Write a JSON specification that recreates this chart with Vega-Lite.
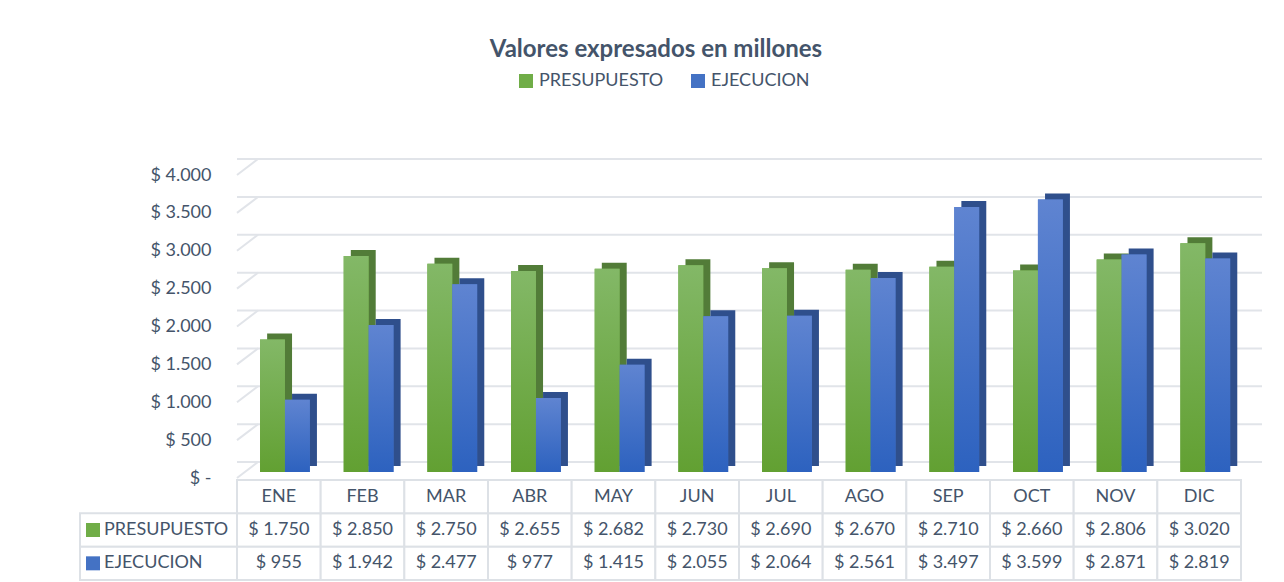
{
  "$schema": "https://vega.github.io/schema/vega-lite/v6.json",
  "padding": {"left": 79, "top": 38, "right": 0, "bottom": 0},
  "title": {"text": "Valores expresados en millones", "anchor": "middle", "fontSize": 24, "font": "Lato", "fontWeight": "bold", "color": "#44546A", "offset": 10, "dx": -15},
  "config": {
    "font": "Lato",
    "view": {"stroke": null},
    "locale": {"number": {"decimal": ",", "thousands": ".", "grouping": [3], "currency": ["$ ", ""]}}
  },
  "datasets": {
    "vals": [
      {"mes": "ENE", "serie": "PRESUPUESTO", "valor": 1750},
      {"mes": "FEB", "serie": "PRESUPUESTO", "valor": 2850},
      {"mes": "MAR", "serie": "PRESUPUESTO", "valor": 2750},
      {"mes": "ABR", "serie": "PRESUPUESTO", "valor": 2655},
      {"mes": "MAY", "serie": "PRESUPUESTO", "valor": 2682},
      {"mes": "JUN", "serie": "PRESUPUESTO", "valor": 2730},
      {"mes": "JUL", "serie": "PRESUPUESTO", "valor": 2690},
      {"mes": "AGO", "serie": "PRESUPUESTO", "valor": 2670},
      {"mes": "SEP", "serie": "PRESUPUESTO", "valor": 2710},
      {"mes": "OCT", "serie": "PRESUPUESTO", "valor": 2660},
      {"mes": "NOV", "serie": "PRESUPUESTO", "valor": 2806},
      {"mes": "DIC", "serie": "PRESUPUESTO", "valor": 3020},
      {"mes": "ENE", "serie": "EJECUCION", "valor": 955},
      {"mes": "FEB", "serie": "EJECUCION", "valor": 1942},
      {"mes": "MAR", "serie": "EJECUCION", "valor": 2477},
      {"mes": "ABR", "serie": "EJECUCION", "valor": 977},
      {"mes": "MAY", "serie": "EJECUCION", "valor": 1415},
      {"mes": "JUN", "serie": "EJECUCION", "valor": 2055},
      {"mes": "JUL", "serie": "EJECUCION", "valor": 2064},
      {"mes": "AGO", "serie": "EJECUCION", "valor": 2561},
      {"mes": "SEP", "serie": "EJECUCION", "valor": 3497},
      {"mes": "OCT", "serie": "EJECUCION", "valor": 3599},
      {"mes": "NOV", "serie": "EJECUCION", "valor": 2871},
      {"mes": "DIC", "serie": "EJECUCION", "valor": 2819}
    ],
    "ticks": [
      {"v": 0}, {"v": 500}, {"v": 1000}, {"v": 1500}, {"v": 2000},
      {"v": 2500}, {"v": 3000}, {"v": 3500}, {"v": 4000}
    ]
  },
  "columns": 2,
  "spacing": {"row": 2, "column": 0},
  "bounds": "flush",
  "resolve": {"scale": {"color": "independent"}},
  "concat": [
    {
      "width": 157,
      "height": 303,
      "data": {"values": [{}]},
      "mark": {"type": "point", "opacity": 0},
      "encoding": {}
    },
    {
      "width": 1004,
      "height": 303,
      "resolve": {"scale": {"xOffset": "independent"}},
      "layer": [
        {
          "data": {"name": "ticks"},
          "mark": {"type": "rule", "xOffset": 21, "x2Offset": 21, "yOffset": -16, "y2Offset": -16, "color": "#e1e4e9", "strokeWidth": 2},
          "encoding": {
            "y": {"field": "v", "type": "quantitative", "scale": {"domain": [0, 4000], "nice": false},
              "axis": {"title": null, "grid": false, "domain": false, "ticks": false, "labelPadding": 26, "labelFontSize": 18, "labelColor": "#44546A", "labelFont": "Lato", "labelOverlap": false, "labelBound": false,
                "values": [0, 500, 1000, 1500, 2000, 2500, 3000, 3500, 4000],
                "labelExpr": "datum.value == 0 ? '$ -\u00a0\u00a0\u00a0' : format(datum.value, '$,.0f')"}}
          }
        },
        {
          "data": {"name": "ticks"},
          "mark": {"type": "rule", "x2Offset": 21, "y2Offset": -16, "color": "#e1e4e9", "strokeWidth": 2},
          "encoding": {
            "x": {"datum": "ENE", "type": "nominal", "bandPosition": 0, "axis": null},
            "x2": {"datum": "ENE", "bandPosition": 0},
            "y": {"field": "v", "type": "quantitative",
              "axis": {"title": null, "grid": false, "domain": false, "ticks": false, "labelPadding": 26, "labelFontSize": 18, "labelColor": "#44546A", "labelFont": "Lato", "labelOverlap": false, "labelBound": false,
                "values": [0, 500, 1000, 1500, 2000, 2500, 3000, 3500, 4000],
                "labelExpr": "datum.value == 0 ? '$ -\u00a0\u00a0\u00a0' : format(datum.value, '$,.0f')"}},
            "y2": {"field": "v"}
          }
        },
        {
          "data": {"name": "vals"},
          "mark": {"type": "bar", "yOffset": -12, "y2Offset": -12},
          "encoding": {
            "x": {"field": "mes", "type": "nominal", "axis": null, "scale": {"domain": ["ENE","FEB","MAR","ABR","MAY","JUN","JUL","AGO","SEP","OCT","NOV","DIC"], "paddingInner": 0, "paddingOuter": 0}},
            "xOffset": {"field": "serie", "type": "nominal", "scale": {"domain": ["PRESUPUESTO", "EJECUCION"], "paddingInner": 0, "paddingOuter": 0.68, "align": 0.89}},
            "y": {"field": "valor", "type": "quantitative",
              "axis": {"title": null, "grid": false, "domain": false, "ticks": false, "labelPadding": 26, "labelFontSize": 18, "labelColor": "#44546A", "labelFont": "Lato", "labelOverlap": false, "labelBound": false,
                "values": [0, 500, 1000, 1500, 2000, 2500, 3000, 3500, 4000],
                "labelExpr": "datum.value == 0 ? '$ -\u00a0\u00a0\u00a0' : format(datum.value, '$,.0f')"}},
            "fill": {"field": "serie", "type": "nominal", "scale": {"domain": ["PRESUPUESTO", "EJECUCION"], "range": ["#527c38", "#2f4f8c"]}, "legend": null}
          }
        },
        {
          "data": {"name": "vals"},
          "mark": {"type": "bar", "yOffset": -6, "y2Offset": -6},
          "encoding": {
            "x": {"field": "mes", "type": "nominal", "axis": null},
            "xOffset": {"field": "serie", "type": "nominal", "scale": {"domain": ["PRESUPUESTO", "EJECUCION"], "paddingInner": 0, "paddingOuter": 0.68, "align": 0.68}},
            "y": {"field": "valor", "type": "quantitative",
              "axis": {"title": null, "grid": false, "domain": false, "ticks": false, "labelPadding": 26, "labelFontSize": 18, "labelColor": "#44546A", "labelFont": "Lato", "labelOverlap": false, "labelBound": false,
                "values": [0, 500, 1000, 1500, 2000, 2500, 3000, 3500, 4000],
                "labelExpr": "datum.value == 0 ? '$ -\u00a0\u00a0\u00a0' : format(datum.value, '$,.0f')"}},
            "color": {"field": "serie", "type": "nominal", "scale": {"domain": ["PRESUPUESTO", "EJECUCION"], "range": ["#70AD47", "#4472C4"]},
              "legend": {"title": null, "orient": "none", "legendX": 280, "legendY": -103, "direction": "horizontal", "symbolType": "square", "symbolSize": 196, "labelFontSize": 18, "labelColor": "#44546A", "labelFont": "Lato", "columnPadding": 25, "labelOffset": 4}}
          }
        },
        {
          "data": {"name": "vals"},
          "transform": [{"filter": "datum.serie == 'PRESUPUESTO'"}],
          "mark": {"type": "bar", "yOffset": -6, "y2Offset": -6,
            "color": {"gradient": "linear", "x1": 0, "y1": 0, "x2": 0, "y2": 1, "stops": [{"offset": 0, "color": "#83b867"}, {"offset": 1, "color": "#62a032"}]}},
          "encoding": {
            "x": {"field": "mes", "type": "nominal", "axis": null},
            "xOffset": {"field": "serie", "type": "nominal", "scale": {"domain": ["PRESUPUESTO", "EJECUCION"], "paddingInner": 0, "paddingOuter": 0.68, "align": 0.68}},
            "y": {"field": "valor", "type": "quantitative",
              "axis": {"title": null, "grid": false, "domain": false, "ticks": false, "labelPadding": 26, "labelFontSize": 18, "labelColor": "#44546A", "labelFont": "Lato", "labelOverlap": false, "labelBound": false,
                "values": [0, 500, 1000, 1500, 2000, 2500, 3000, 3500, 4000],
                "labelExpr": "datum.value == 0 ? '$ -\u00a0\u00a0\u00a0' : format(datum.value, '$,.0f')"}}
          }
        },
        {
          "data": {"name": "vals"},
          "transform": [{"filter": "datum.serie == 'EJECUCION'"}],
          "mark": {"type": "bar", "yOffset": -6, "y2Offset": -6,
            "color": {"gradient": "linear", "x1": 0, "y1": 0, "x2": 0, "y2": 1, "stops": [{"offset": 0, "color": "#5f84d1"}, {"offset": 1, "color": "#2d62bf"}]}},
          "encoding": {
            "x": {"field": "mes", "type": "nominal", "axis": null},
            "xOffset": {"field": "serie", "type": "nominal", "scale": {"domain": ["PRESUPUESTO", "EJECUCION"], "paddingInner": 0, "paddingOuter": 0.68, "align": 0.68}},
            "y": {"field": "valor", "type": "quantitative",
              "axis": {"title": null, "grid": false, "domain": false, "ticks": false, "labelPadding": 26, "labelFontSize": 18, "labelColor": "#44546A", "labelFont": "Lato", "labelOverlap": false, "labelBound": false,
                "values": [0, 500, 1000, 1500, 2000, 2500, 3000, 3500, 4000],
                "labelExpr": "datum.value == 0 ? '$ -\u00a0\u00a0\u00a0' : format(datum.value, '$,.0f')"}}
          }
        }
      ]
    },
    {
      "width": 157,
      "height": 100,
      "data": {"name": "vals"},
      "transform": [{"filter": "datum.mes == 'ENE'"}],
      "layer": [
        {
          "mark": {"type": "bar", "fill": "#ffffff", "stroke": "#dde1e6", "strokeWidth": 2},
          "encoding": {
            "y": {"field": "serie", "type": "nominal", "axis": null, "scale": {"domain": ["MES", "PRESUPUESTO", "EJECUCION"], "paddingInner": 0, "paddingOuter": 0}}
          }
        },
        {
          "mark": {"type": "point", "shape": "square", "size": 196, "filled": true, "opacity": 1, "xOffset": -65.5},
          "encoding": {
            "y": {"field": "serie", "type": "nominal", "axis": null},
            "color": {"field": "serie", "type": "nominal", "scale": {"domain": ["PRESUPUESTO", "EJECUCION"], "range": ["#70AD47", "#4472C4"]}, "legend": null}
          }
        },
        {
          "mark": {"type": "text", "align": "left", "xOffset": -54.5, "fontSize": 18, "color": "#44546A", "font": "Lato"},
          "encoding": {
            "y": {"field": "serie", "type": "nominal", "axis": null},
            "text": {"field": "serie", "type": "nominal"}
          }
        }
      ]
    },
    {
      "width": 1004,
      "height": 100,
      "data": {"name": "vals"},
      "layer": [
        {
          "mark": {"type": "rect", "fill": "#ffffff", "stroke": "#dde1e6", "strokeWidth": 2},
          "encoding": {
            "x": {"field": "mes", "type": "nominal", "axis": null, "scale": {"domain": ["ENE","FEB","MAR","ABR","MAY","JUN","JUL","AGO","SEP","OCT","NOV","DIC"], "paddingInner": 0, "paddingOuter": 0}},
            "y": {"field": "serie", "type": "nominal", "axis": null, "scale": {"domain": ["MES", "PRESUPUESTO", "EJECUCION"], "paddingInner": 0, "paddingOuter": 0}}
          }
        },
        {
          "transform": [{"filter": "datum.serie == 'PRESUPUESTO'"}],
          "mark": {"type": "rect", "fill": "#ffffff", "stroke": "#dde1e6", "strokeWidth": 2},
          "encoding": {
            "x": {"field": "mes", "type": "nominal", "axis": null},
            "y": {"datum": "MES", "type": "nominal", "axis": null}
          }
        },
        {
          "mark": {"type": "text", "fontSize": 18, "color": "#44546A", "font": "Lato"},
          "encoding": {
            "x": {"field": "mes", "type": "nominal", "axis": null},
            "y": {"field": "serie", "type": "nominal", "axis": null},
            "text": {"field": "valor", "type": "quantitative", "format": "$,.0f"}
          }
        },
        {
          "transform": [{"filter": "datum.serie == 'PRESUPUESTO'"}],
          "mark": {"type": "text", "fontSize": 18, "color": "#44546A", "font": "Lato"},
          "encoding": {
            "x": {"field": "mes", "type": "nominal", "axis": null},
            "y": {"datum": "MES", "type": "nominal", "axis": null},
            "text": {"field": "mes", "type": "nominal"}
          }
        }
      ]
    }
  ]
}
